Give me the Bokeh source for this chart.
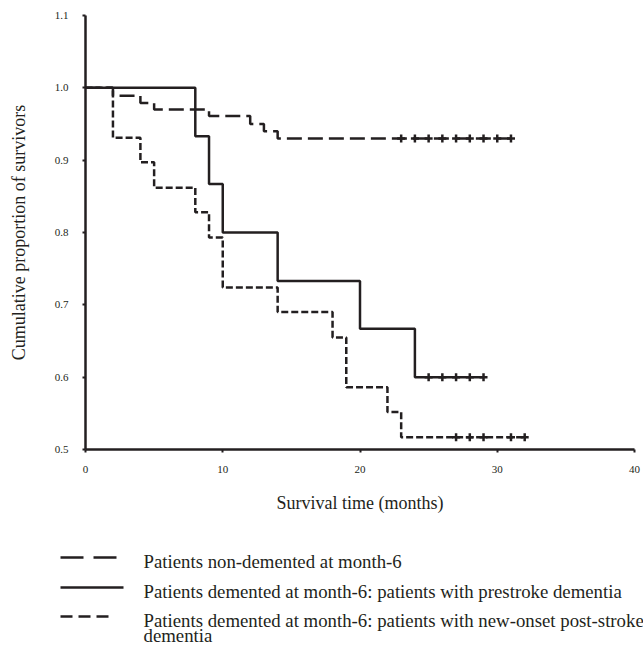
from bokeh.plotting import figure
from bokeh.models import Range1d, FixedTicker
from bokeh.embed import file_html
from bokeh.resources import INLINE
from bokeh.core.properties import value

# ---------------- data ----------------
x_ticks = [0, 10, 20, 30, 40]
x_tick_labels = ["0", "10", "20", "30", "40"]
y_ticks = [0.5, 0.6, 0.7, 0.8, 0.9, 1.0, 1.1]
y_tick_labels = ["0.5", "0.6", "0.7", "0.8", "0.9", "1.0", "1.1"]

# Patients non-demented at month-6
nd_time = [0, 2, 4, 5, 9, 12, 13, 14]
nd_surv = [1.0, 0.989, 0.979, 0.970, 0.961, 0.950, 0.940, 0.930]
nd_end = 31
nd_censor = [23, 24, 25, 26, 27, 28, 29, 30, 31]

# Patients demented at month-6: prestroke dementia
pre_time = [0, 8, 9, 10, 14, 20, 24]
pre_surv = [1.0, 0.933, 0.867, 0.800, 0.733, 0.667, 0.600]
pre_end = 29
pre_censor = [25, 26, 27, 28, 29]

# Patients demented at month-6: new-onset post-stroke dementia
new_time = [0, 2, 4, 5, 8, 9, 10, 14, 18, 19, 22, 23]
new_surv = [1.0, 0.931, 0.897, 0.862, 0.828, 0.793, 0.724, 0.690, 0.655, 0.586, 0.552, 0.517]
new_end = 32
new_censor = [27, 28, 29, 31, 32]

legend_labels = [
    "Patients non-demented at month-6",
    "Patients demented at month-6: patients with prestroke dementia",
    "Patients demented at month-6: patients with new-onset post-stroke",
    "dementia",
]

x_label = "Survival time (months)"
y_label = "Cumulative proportion of survivors"

# ---------------- style ----------------
INK = "#231f20"
SERIF = "Liberation Serif"
NARROW = "Liberation Sans Narrow"
LW = 2.5
DASH_LONG = "15 6"
DASH_SHORT = "7 3"

W = 643
H_MAIN = 518
H_LEG = 126

p = figure(width=W, height=H_MAIN,
           x_range=Range1d(0, 40), y_range=Range1d(0.5, 1.1),
           output_backend="svg", toolbar_location=None,
           min_border_left=85, min_border_right=9,
           min_border_top=15, min_border_bottom=H_MAIN - 15 - 434)
p.outline_line_color = None
p.grid.visible = False

for ax in (p.xaxis[0], p.yaxis[0]):
    ax.axis_line_color = INK
    ax.axis_line_width = LW
    ax.major_tick_line_color = INK
    ax.major_tick_line_width = 2
    ax.major_tick_in = 0
    ax.major_tick_out = 3
    ax.minor_tick_line_color = None
    ax.major_label_text_font = NARROW
    ax.major_label_text_font_size = "11px"
    ax.major_label_text_color = INK
    ax.axis_label_text_font = SERIF
    ax.axis_label_text_font_size = "18px"
    ax.axis_label_text_font_style = "normal"
    ax.axis_label_text_color = INK

p.xaxis.ticker = FixedTicker(ticks=x_ticks)
p.xaxis.major_label_overrides = dict(zip(x_ticks, x_tick_labels))
p.xaxis.major_label_standoff = 13
p.xaxis.axis_label = x_label
p.xaxis.axis_label_standoff = 17

p.yaxis.ticker = FixedTicker(ticks=y_ticks)
p.yaxis.major_label_overrides = dict(zip(y_ticks, y_tick_labels))
p.yaxis.major_label_standoff = 14
p.yaxis.axis_label = y_label
p.yaxis.axis_label_standoff = 23

series = [
    (nd_time, nd_surv, nd_end, nd_censor, DASH_LONG),
    (pre_time, pre_surv, pre_end, pre_censor, "solid"),
    (new_time, new_surv, new_end, new_censor, DASH_SHORT),
]
for t, s, end, cens, dash in series:
    p.step(x=t + [end], y=s + [s[-1]], mode="after",
           line_color=INK, line_width=LW, line_dash=dash)
    p.scatter(x=cens, y=[s[-1]] * len(cens), marker="cross", size=8,
              line_color=INK, line_width=2.5)

# ---------------- legend figure (pixel coordinates) ----------------
q = figure(width=W, height=H_LEG, x_range=Range1d(0, W), y_range=Range1d(H_LEG, 0),
           output_backend="svg", toolbar_location=None, min_border=0,
           x_axis_location=None, y_axis_location=None)
q.outline_line_color = None
q.grid.visible = False

key_x0 = 60
key_len = [57, 63, 49]
key_y = [39, 69, 98]
key_dash = ["23 10", "solid", "12 6"]
for ky, d, ln in zip(key_y, key_dash, key_len):
    q.line(x=[key_x0, key_x0 + ln], y=[ky, ky],
           line_color=INK, line_width=LW, line_dash=d)

text_y = [key_y[0] + 4, key_y[1] + 4, key_y[2] + 4, key_y[2] + 19]
q.text(x=[143] * len(legend_labels), y=text_y, text=legend_labels,
       text_font=value(SERIF), text_font_size="18.8px", text_color=INK,
       text_baseline="alphabetic", text_align="left")

open("out.html", "w").write(file_html([p, q], INLINE))
